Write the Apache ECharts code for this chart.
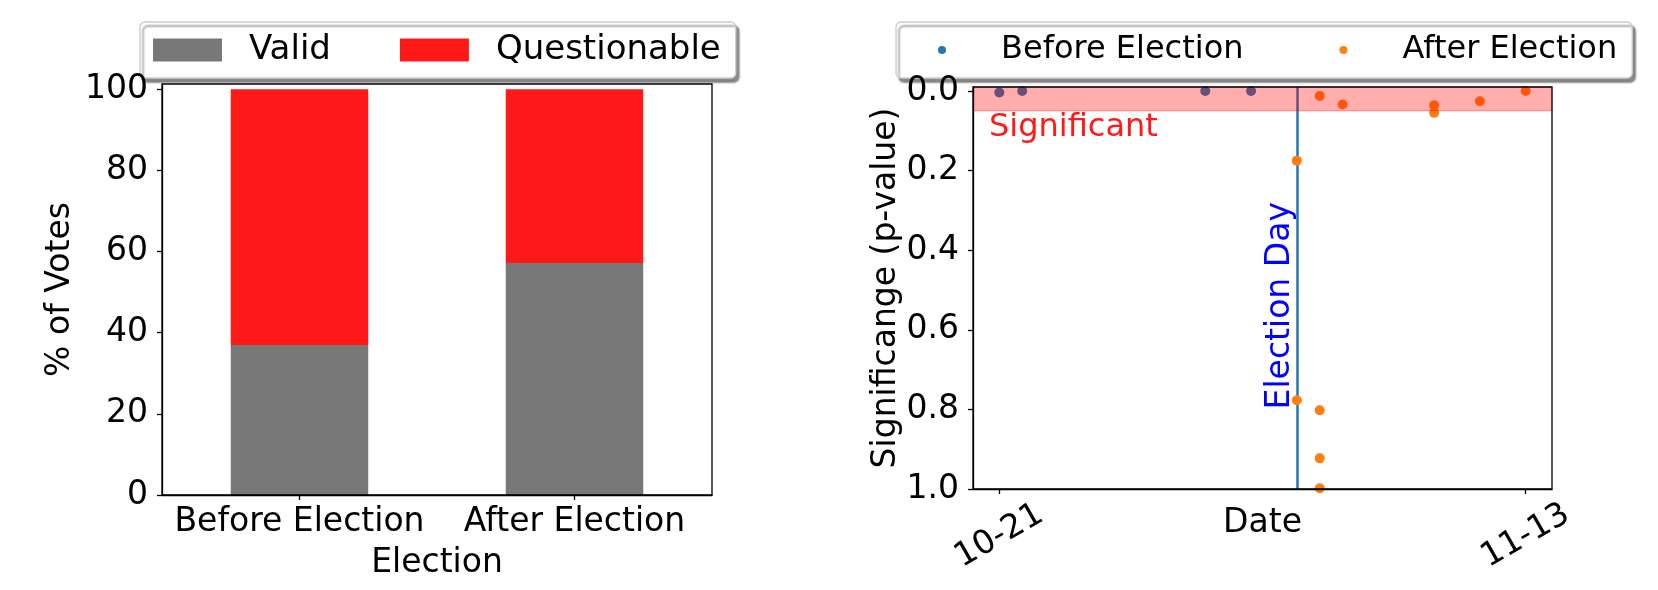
<!DOCTYPE html>
<html>
<head>
<meta charset="utf-8">
<script src="https://cdn.jsdelivr.net/npm/echarts@6/dist/echarts.min.js"></script>
<style>
html,body{margin:0;padding:0;background:#fff;}
#chart{width:1658px;height:590px;}
</style>
</head>
<body>
<div id="chart"></div>
<script>
// ---- Left panel data ----
const voteCategories = ['Before Election', 'After Election'];
const validPct = [37.0, 57.2];
const questionablePct = [63.0, 42.8];
const pctTicks = [0, 20, 40, 60, 80, 100];

// ---- Right panel data ----
const beforeDates = ['2020-10-21', '2020-10-22', '2020-10-30', '2020-11-01'];
const beforeP = [0.004, 0.0, 0.0, 0.0];
const afterDates = ['2020-11-03', '2020-11-03', '2020-11-04', '2020-11-04', '2020-11-04', '2020-11-04',
                    '2020-11-05', '2020-11-09', '2020-11-09', '2020-11-11', '2020-11-13'];
const afterP = [0.175, 0.777, 0.0125, 0.802, 0.923, 0.998, 0.034, 0.036, 0.055, 0.026, 0.0];
const dateTicks = ['2020-10-21', '2020-11-13'];
const pTicks = [0, 0.2, 0.4, 0.6, 0.8, 1.0];
const electionDate = '2020-11-03';
const sigThreshold = 0.05;

const FONT = 'DejaVu Sans';
const DAY = 86400000;
const t0 = Date.parse(dateTicks[0]);
const dayOf = d => (Date.parse(d) - t0) / DAY;
const fmtDate = v => {
  const dt = new Date(t0 + Math.round(v) * DAY);
  return String(dt.getUTCMonth() + 1).padStart(2, '0') + '-' + String(dt.getUTCDate()).padStart(2, '0');
};
const tickDays = dateTicks.map(dayOf);
const span = tickDays[1] - tickDays[0];
const xMin = tickDays[0] - 0.05 * span;
const xMax = tickDays[1] + 0.05 * span;
const yMinP = -0.01, yMaxP = 1.0;

const beforeData = beforeDates.map((d, i) => [dayOf(d), beforeP[i]]);
const afterData = afterDates.map((d, i) => [dayOf(d), afterP[i]]);

const axisLineStyle = { color: '#000', width: 1.3 };
const tickStyle = { show: true, length: 5, lineStyle: { color: '#000', width: 1.3 } };

const chart = echarts.init(document.getElementById('chart'), null, { renderer: 'canvas' });
chart.setOption({
  animation: false,
  backgroundColor: '#fff',
  textStyle: { fontFamily: FONT },
  grid: [
    { left: 162, top: 84, width: 550, height: 411, show: true, borderColor: '#000', borderWidth: 1.3, z: 10,
      containLabel: false, outerBoundsMode: 'none' },
    { left: 973, top: 87, width: 579, height: 402, show: true, borderColor: '#000', borderWidth: 1.3, z: 10,
      containLabel: false, outerBoundsMode: 'none' }
  ],
  legend: [
    {
      data: ['Valid', 'Questionable'],
      left: 140, top: 22, orient: 'horizontal',
      icon: 'rect', itemWidth: 69, itemHeight: 23, itemGap: 69,
      padding: [7.5, 15, 7.5, 13],
      backgroundColor: '#fff', borderColor: '#cccccc', borderWidth: 1.3, borderRadius: 5,
      shadowColor: 'rgba(0,0,0,0.45)', shadowBlur: 2, shadowOffsetX: 3, shadowOffsetY: 4,
      selectedMode: false,
      textStyle: { fontFamily: FONT, fontSize: 34, color: '#000', lineHeight: 36, padding: [5, 0, 0, 22] }
    },
    {
      data: ['Before Election', 'After Election'],
      left: 896, top: 22, orient: 'horizontal',
      icon: 'circle', itemWidth: 67, itemHeight: 8, itemGap: 96,
      padding: [8.5, 15, 8.5, 42],
      backgroundColor: '#fff', borderColor: '#cccccc', borderWidth: 1.3, borderRadius: 5,
      shadowColor: 'rgba(0,0,0,0.45)', shadowBlur: 2, shadowOffsetX: 3, shadowOffsetY: 4,
      selectedMode: false,
      textStyle: { fontFamily: FONT, fontSize: 32, color: '#000', lineHeight: 34, padding: [5, 0, 0, 20.5] }
    }
  ],
  xAxis: [
    {
      gridIndex: 0, type: 'category', data: voteCategories, z: 10,
      axisLine: { show: true, onZero: false, lineStyle: axisLineStyle },
      axisTick: Object.assign({ alignWithLabel: true }, tickStyle),
      axisLabel: { interval: 0, fontFamily: FONT, fontSize: 33, color: '#000', margin: 27, verticalAlign: 'middle', hideOverlap: false },
      splitLine: { show: false },
      name: 'Election', nameLocation: 'middle', nameGap: 68, nameMoveOverlap: false,
      nameTextStyle: { fontFamily: FONT, fontSize: 33, color: '#000', verticalAlign: 'middle' }
    },
    {
      gridIndex: 1, type: 'value', min: xMin, max: xMax, z: 10,
      axisLine: { show: true, onZero: false, lineStyle: axisLineStyle },
      axisTick: Object.assign({ customValues: tickDays }, tickStyle),
      axisLabel: { customValues: tickDays, formatter: fmtDate, rotate: 30, align: 'center', verticalAlign: 'middle',
                   margin: 47, fontFamily: FONT, fontSize: 33, color: '#000' },
      splitLine: { show: false },
      name: 'Date', nameLocation: 'middle', nameGap: 34.5, nameMoveOverlap: false,
      nameTextStyle: { fontFamily: FONT, fontSize: 33, color: '#000', verticalAlign: 'middle' }
    }
  ],
  yAxis: [
    {
      gridIndex: 0, type: 'value', min: 0, max: 101.3, z: 10,
      axisLine: { show: true, onZero: false, lineStyle: axisLineStyle },
      axisTick: Object.assign({ customValues: pctTicks }, tickStyle),
      axisLabel: { customValues: pctTicks, fontFamily: FONT, fontSize: 33, color: '#000', margin: 14 },
      splitLine: { show: false },
      name: '% of Votes', nameLocation: 'middle', nameRotate: 90, nameGap: 102, nameMoveOverlap: false,
      nameTextStyle: { fontFamily: FONT, fontSize: 33, color: '#000', verticalAlign: 'middle' }
    },
    {
      gridIndex: 1, type: 'value', min: yMinP, max: yMaxP, inverse: true, z: 10,
      axisLine: { show: true, onZero: false, lineStyle: axisLineStyle },
      axisTick: Object.assign({ customValues: pTicks }, tickStyle),
      axisLabel: { customValues: pTicks, formatter: v => v.toFixed(1), fontFamily: FONT, fontSize: 33, color: '#000', margin: 14 },
      splitLine: { show: false },
      name: 'Significange (p-value)', nameLocation: 'middle', nameRotate: 90, nameGap: 87, nameMoveOverlap: false,
      nameTextStyle: { fontFamily: FONT, fontSize: 33, color: '#000', verticalAlign: 'middle' }
    }
  ],
  series: [
    {
      name: 'Valid', type: 'bar', xAxisIndex: 0, yAxisIndex: 0, stack: 'votes',
      data: validPct, barWidth: '50%', itemStyle: { color: '#787878' }, silent: true
    },
    {
      name: 'Questionable', type: 'bar', xAxisIndex: 0, yAxisIndex: 0, stack: 'votes',
      data: questionablePct, barWidth: '50%', itemStyle: { color: '#ff1919' }, silent: true
    },
    {
      name: 'Before Election', type: 'scatter', xAxisIndex: 1, yAxisIndex: 1,
      data: beforeData, symbolSize: 10, itemStyle: { color: '#1f77b4', opacity: 1 }, z: 3, silent: true,
      markLine: {
        silent: true, z: 1, symbol: ['none', 'none'], label: { show: false },
        lineStyle: { color: '#1f77b4', width: 2.5, type: 'solid', opacity: 1 },
        data: [{ xAxis: dayOf(electionDate) }]
      }
    },
    {
      name: 'After Election', type: 'scatter', xAxisIndex: 1, yAxisIndex: 1,
      data: afterData, symbolSize: 10, itemStyle: { color: '#ff7f0e', opacity: 1 }, z: 3, silent: true
    },
    {
      name: 'band', type: 'scatter', xAxisIndex: 1, yAxisIndex: 1, data: [], z: 5, silent: true,
      markArea: {
        silent: true, z: 5,
        itemStyle: { color: 'rgba(255,0,0,0.32)', borderColor: 'rgba(255,0,0,0.3)', borderWidth: 1, opacity: 1 },
        data: [[{ yAxis: yMinP }, { yAxis: sigThreshold }]]
      }
    },
    {
      name: 'annotations', type: 'scatter', xAxisIndex: 1, yAxisIndex: 1, z: 6, silent: true,
      symbolSize: 1, itemStyle: { color: 'rgba(0,0,0,0)', opacity: 1 },
      data: [
        {
          value: [xMin + 0.7, 0.093],
          label: { show: true, position: 'inside', formatter: 'Significant', align: 'left', verticalAlign: 'middle',
                   fontFamily: FONT, fontSize: 32, color: '#ff1a1a', opacity: 1 }
        },
        {
          value: [dayOf(electionDate), 0.8],
          label: { show: true, position: 'inside', formatter: 'Election Day', rotate: 90, align: 'left', verticalAlign: 'bottom',
                   fontFamily: FONT, fontSize: 33, color: '#0000ff', opacity: 1 }
        }
      ]
    }
  ]
});
</script>
</body>
</html>
